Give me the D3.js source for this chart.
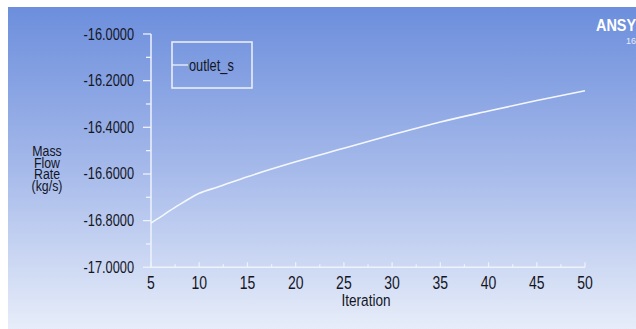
<!DOCTYPE html>
<html><head><meta charset="utf-8">
<script src="https://cdn.jsdelivr.net/npm/d3@7"></script>
<style>
html,body{margin:0;padding:0;background:#fff;}
svg{display:block;}
text{font-family:"Liberation Sans",Arial,sans-serif;fill:#14161f;}
</style></head>
<body>
<svg id="c" width="636" height="329"></svg>
<script>
const iterations = [5, 6, 7, 8, 9, 10, 12, 15, 20, 25, 30, 35, 40, 45, 50];
const massFlow = [-16.810, -16.784, -16.756, -16.730, -16.705, -16.683, -16.655, -16.612, -16.548, -16.490, -16.432, -16.377, -16.330, -16.285, -16.243];
const seriesName = "outlet_s";
const xTicks = [5, 10, 15, 20, 25, 30, 35, 40, 45, 50];
const yTicks = [-17.0, -16.8, -16.6, -16.4, -16.2, -16.0];
const yLabelLines = ["Mass", "Flow", "Rate", "(kg/s)"];

const NARROW = 0.8;
const svg = d3.select("#c");
const defs = svg.append("defs");
const grad = defs.append("linearGradient").attr("id","bg").attr("x1",0).attr("y1",0).attr("x2",0).attr("y2",1);
grad.append("stop").attr("offset","0%").attr("stop-color","#6c8edc");
grad.append("stop").attr("offset","50%").attr("stop-color","#a5b9ea");
grad.append("stop").attr("offset","100%").attr("stop-color","#e7edf9");
svg.append("rect").attr("x",8).attr("y",7).attr("width",628).attr("height",322).attr("fill","url(#bg)");

function ntext(sel, px, py, sx){
  const s = sx || NARROW;
  return sel.attr("transform", (d,i)=>`translate(${typeof px==="function"?px(d,i):px},${typeof py==="function"?py(d,i):py}) scale(${s},1)`);
}

const x = d3.scaleLinear().domain([5,50]).range([151,585]);
const y = d3.scaleLinear().domain([-17,-16]).range([267.3,34]);
const axisCol = "#eef2fb";

// y axis
const gy = svg.append("g").attr("transform","translate(151,0)");
gy.append("line").attr("x1",0).attr("x2",0).attr("y1",y(-16)).attr("y2",y(-17)).attr("stroke",axisCol).attr("stroke-width",1.5);
const yMinor = d3.range(0,5).map(i => -16.9 + i*0.2);
gy.selectAll(".ym").data(yMinor).join("line").attr("x1",-5).attr("x2",0)
  .attr("y1",d=>y(d)).attr("y2",d=>y(d)).attr("stroke",axisCol).attr("stroke-width",1.3);
gy.selectAll(".yM").data(yTicks).join("line").attr("x1",-8).attr("x2",0)
  .attr("y1",d=>y(d)).attr("y2",d=>y(d)).attr("stroke",axisCol).attr("stroke-width",1.3);
ntext(gy.selectAll(".yl").data(yTicks).join("text"), -17, d=>y(d)+5.5)
  .attr("text-anchor","end").attr("font-size",16).text(d=>d3.format(".4f")(d).replace("−","-"));

// x axis
const gx = svg.append("g").attr("transform","translate(0,267.3)");
gx.append("line").attr("x1",x(5)).attr("x2",x(50)).attr("y1",0).attr("y2",0).attr("stroke",axisCol).attr("stroke-width",1.5);
const xMinor = d3.range(0,9).map(i => 7.5 + i*5);
gx.selectAll(".xm").data(xMinor).join("line").attr("x1",d=>x(d)).attr("x2",d=>x(d))
  .attr("y1",-3).attr("y2",0).attr("stroke",axisCol).attr("stroke-width",1.2);
gx.selectAll(".xM").data(xTicks).join("line").attr("x1",d=>x(d)).attr("x2",d=>x(d))
  .attr("y1",-5).attr("y2",0).attr("stroke",axisCol).attr("stroke-width",1.2);
ntext(gx.selectAll(".xl").data(xTicks).join("text"), d=>x(d), 21.5)
  .attr("text-anchor","middle").attr("font-size",17.5).text(d=>d);

ntext(svg.append("text"), 366, 306).attr("text-anchor","middle").attr("font-size",17).text("Iteration");

ntext(svg.selectAll(".ylab").data(yLabelLines).join("text"), 47, (d,i)=>156 + i*11.6, 0.85)
  .attr("text-anchor","middle").attr("font-size",14.5).text(d=>d);

// line
const line = d3.line().x((d,i)=>x(iterations[i])).y(d=>y(d)).curve(d3.curveMonotoneX);
svg.append("path").datum(massFlow).attr("d",line).attr("fill","none").attr("stroke","#f4f7fd").attr("stroke-width",1.6);

// legend
svg.append("rect").attr("x",172).attr("y",42).attr("width",80).attr("height",46)
  .attr("fill","none").attr("stroke","#eef2fb").attr("stroke-width",1.5);
svg.append("line").attr("x1",172).attr("x2",188).attr("y1",65).attr("y2",65).attr("stroke","#eef2fb").attr("stroke-width",1.3);
ntext(svg.append("text"), 189, 70.5).attr("font-size",16).text(seriesName);

// logo
svg.append("text").attr("transform","translate(596,31) scale(0.85,1)").attr("font-size",17).attr("font-weight","bold")
  .style("fill","#ffffff").text("ANSYS");
svg.append("text").attr("x",626).attr("y",44).attr("font-size",9)
  .style("fill","#e6ecfa").text("16");
</script>
</body></html>
